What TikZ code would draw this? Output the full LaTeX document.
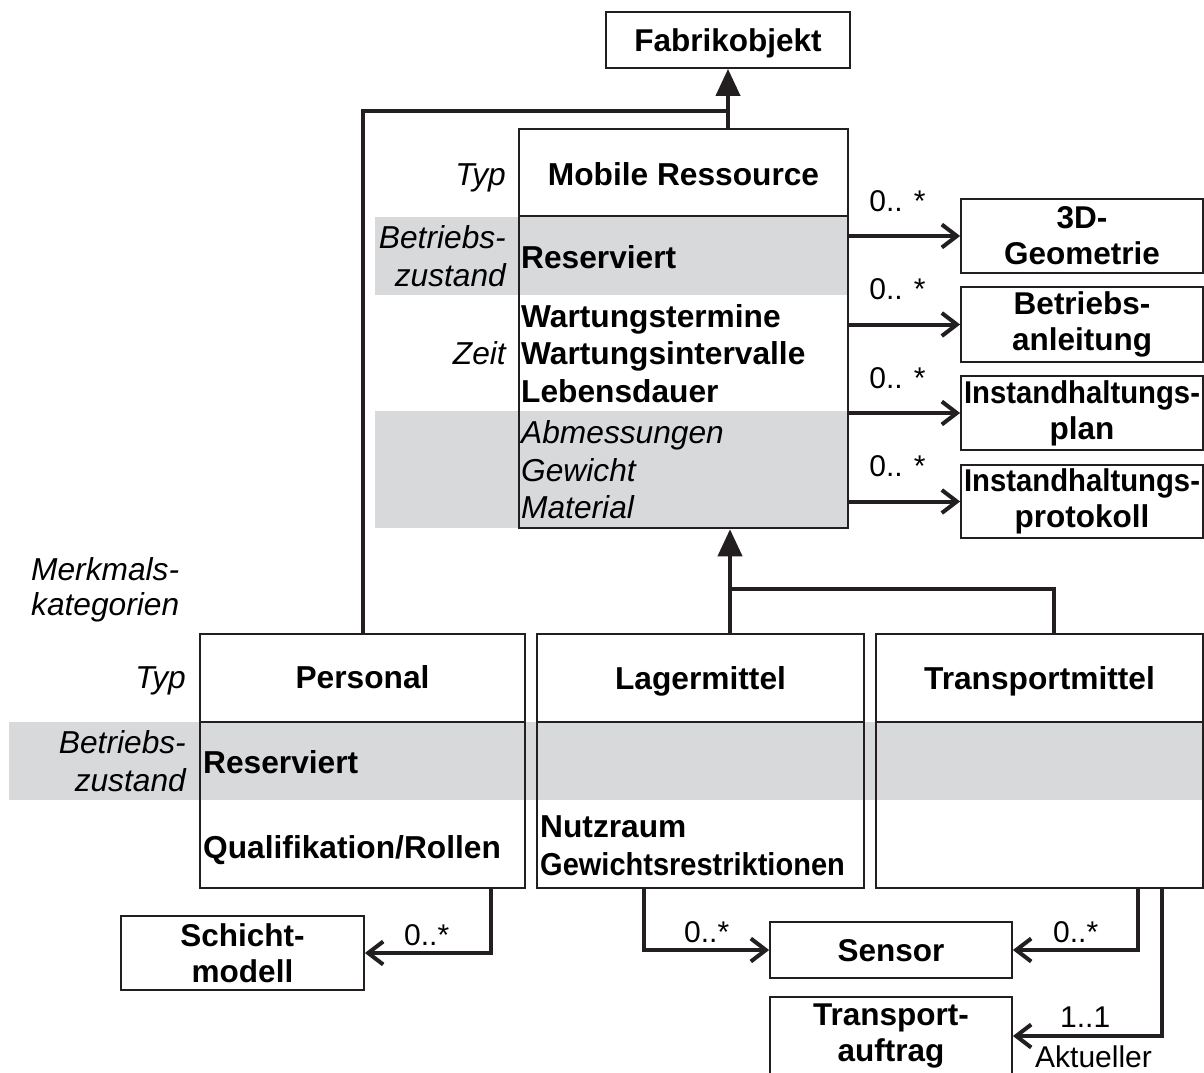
\documentclass[tikz,border=0pt]{standalone}
\usepackage{fontspec}
\setmainfont{Liberation Sans}
\usetikzlibrary{arrows.meta}
\definecolor{ink}{RGB}{35,31,32}
\definecolor{band}{RGB}{216,217,219}
\newcommand\bigfont{\fontsize{31.7}{37.5}\selectfont}
\newcommand\boxfont{\fontsize{31.5}{36}\selectfont}
\newcommand\multfont{\fontsize{30}{36}\selectfont}

\begin{document}
\begin{tikzpicture}[x=1pt,y=-1pt,
  classbox/.style={draw=ink, line width=2.5pt, inner sep=0pt},
  divider/.style={draw=ink, line width=2.5pt},
  objbox/.style={draw=ink, line width=1.8pt, fill=white, inner sep=0pt, align=center, font=\boxfont\bfseries},
  attr/.style={anchor=base west, inner sep=0pt, font=\bigfont\bfseries},
  iattr/.style={anchor=base west, inner sep=0pt, font=\bigfont\itshape},
  cat/.style={anchor=base east, inner sep=0pt, font=\bigfont\itshape},
  catl/.style={anchor=base west, inner sep=0pt, font=\bigfont\itshape},
  title/.style={anchor=base, inner sep=0pt, font=\bigfont\bfseries},
  mult/.style={anchor=base west, inner sep=0pt, font=\multfont},
  conn/.style={draw=ink, line width=4pt},
  assoc/.style={conn, -{Straight Barb[length=15pt,width=23pt]}},
  gen/.style={conn, -{Triangle[length=27pt,width=24pt]}}
]
\fill[white] (0,0) rectangle (1204,1072);
\useasboundingbox (0,0) rectangle (1204,1072);

% grey feature-category bands
\fill[band] (375,217) rectangle (848,295);
\fill[band] (375,411) rectangle (848,528);
\fill[band] (9,722) rectangle (1204,800);

% classes
\node[classbox, minimum width=329pt, minimum height=399pt] (mr) at (683.5,328.5) {};
\draw[divider] (mr.west |- 0,216) -- (mr.east |- 0,216);
\node[classbox, minimum width=325pt, minimum height=254pt] (pers) at (362.5,761) {};
\node[classbox, minimum width=327pt, minimum height=254pt] (lag) at (700.5,761) {};
\node[classbox, minimum width=327pt, minimum height=254pt] (tra) at (1039.5,761) {};
\draw[divider] (pers.west |- 0,722) -- (pers.east |- 0,722);
\draw[divider] (lag.west |- 0,722) -- (lag.east |- 0,722);
\draw[divider] (tra.west |- 0,722) -- (tra.east |- 0,722);

% plain objects
\node[objbox, minimum width=244pt, minimum height=56pt, text depth=0pt] (fab) at (728,40) {Fabrikobjekt};
\node[objbox, minimum width=242pt, minimum height=74pt] (geo) at (1082,236) {3D-\\Geometrie};
\node[objbox, minimum width=242pt, minimum height=75pt] (anl) at (1082,324.5) {Betriebs-\\anleitung};
\node[objbox, minimum width=242pt, minimum height=74pt] (plan) at (1082,413) {\scalebox{0.93}[1]{Instandhaltungs-}\\plan};
\node[objbox, minimum width=242pt, minimum height=73pt] (prot) at (1082,501.5) {\scalebox{0.93}[1]{Instandhaltungs-}\\protokoll};
\node[objbox, minimum width=243pt, minimum height=74pt] (sch) at (242.5,953) {Schicht-\\modell};
\node[objbox, minimum width=242pt, minimum height=56pt, text depth=0pt] (sen) at (891,950) {Sensor};
\node[objbox, minimum width=242pt, minimum height=78pt] (auf) at (891,1036) {Transport-\\auftrag};

% class texts
\node[title] (tmr) at (683.5,185) {Mobile Ressource};
\node[attr] (a1) at (521,268) {Reserviert};
\node[attr] (a2) at (521,327) {Wartungstermine};
\node[attr] (a3) at (521,364) {Wartungsintervalle};
\node[attr] (a4) at (521,402) {Lebensdauer};
\node[iattr] (a5) at (521,443) {Abmessungen};
\node[iattr] (a6) at (521,481) {Gewicht};
\node[iattr] (a7) at (521,518) {Material};

\node[title] (tpers) at (362.5,688) {Personal};
\node[title] (tlag) at (700.5,689) {Lagermittel};
\node[title] (ttra) at (1039.5,689) {Transportmittel};
\node[attr] (b1) at (203,773) {Reserviert};
\node[attr] (b2) at (203,858) {Qualifikation/Rollen};
\node[attr] (b3) at (540,837) {Nutzraum};
\node[attr] (b4) at (540,875) {\scalebox{0.915}[1]{Gewichtsrestriktionen}};

% category names
\node[cat] (c1) at (506,185) {Typ};
\node[cat] (c2) at (506,248) {Betriebs-};
\node[cat] (c3) at (506,286) {zustand};
\node[cat] (c4) at (506,364) {Zeit};
\node[catl] (c5) at (31,580) {Merkmals-};
\node[catl] (c6) at (31,615) {kategorien};
\node[cat] (c7) at (186,688) {Typ};
\node[cat] (c8) at (186,753) {Betriebs-};
\node[cat] (c9) at (186,791) {zustand};

% generalisations
\draw[gen] (fab.south |- mr.north) -- (fab.south);
\coordinate (j1) at (fab.south |- 0,111);
\draw[conn] (pers.north) |- (j1);
\coordinate (j2) at (730,589);
\draw[gen] (j2) -- (j2 |- mr.south);
\coordinate (t0) at (1054,0);
\draw[conn] (lag.north -| j2) -- (j2) -| (tra.north -| t0);

% associations of the mobile resource
\foreach \b in {geo,anl,plan,prot}{
  \draw[assoc] (mr.east |- \b.west) -- (\b.west);
  \path (mr.east |- \b.west) ++(20,-25) node[mult] (m\b) {0.. *};
}

% associations of the subclasses
\coordinate (p1) at (491,0);
\draw[assoc] (pers.south -| p1) |- (sch.east);
\node[mult] (mp) at (404,945) {0..*};
\coordinate (l1) at (643.5,0);
\draw[assoc] (lag.south -| l1) |- (sen.west);
\node[mult] (ml) at (684,942) {0..*};
\coordinate (t2) at (1138,0);
\draw[assoc] (tra.south -| t2) |- (sen.east);
\node[mult] (mt) at (1053,942) {0..*};
\coordinate (t3) at (1162,0);
\draw[assoc] (tra.south -| t3) |- (auf.east);
\node[mult] (ma) at (1060,1027) {1..1};
\node[mult] (ra) at (1035,1067) {Aktueller};
\end{tikzpicture}
\end{document}
